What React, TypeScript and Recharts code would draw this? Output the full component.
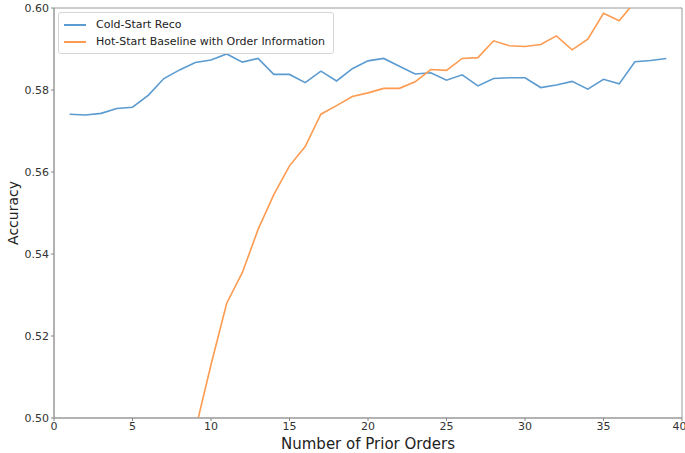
import { LineChart, Line, XAxis, YAxis, ReferenceArea } from 'recharts';

// Number of prior orders (x)
const orders = Array.from({ length: 39 }, (_, i) => i + 1);

const coldStart = [
  0.5741, 0.5739, 0.5743, 0.5755, 0.5758, 0.5787, 0.5828, 0.5849, 0.5867, 0.5873,
  0.5888, 0.5868, 0.5877, 0.5838, 0.5838, 0.5818, 0.5846, 0.5822, 0.5852, 0.5871,
  0.5877, 0.5858, 0.5839, 0.5842, 0.5824, 0.5837, 0.581, 0.5828, 0.583, 0.583,
  0.5806, 0.5812, 0.5821, 0.5802, 0.5826, 0.5815, 0.5869, 0.5872, 0.5877,
];

// values below 0.50 for the first orders fall outside the plotted range
const hotStart: (number | null)[] = [
  null, null, null, null, null, null, null, null, 0.497, 0.513,
  0.528, 0.5355, 0.546, 0.5545, 0.5615, 0.5662, 0.5741, 0.5762, 0.5784, 0.5793,
  0.5804, 0.5804, 0.582, 0.585, 0.5848, 0.5877, 0.5879, 0.592, 0.5908, 0.5906,
  0.5911, 0.5932, 0.5898, 0.5924, 0.5987, 0.5969, 0.6015, null, null,
];

const xTicks = [0, 5, 10, 15, 20, 25, 30, 35, 40];
const yTicks = [0.5, 0.52, 0.54, 0.56, 0.58, 0.6];

const BLUE = '#5b9bd0';
const ORANGE = '#fd9b50';
const FONT = '"DejaVu Sans", sans-serif';

const data = orders.map((n, i) => ({
  orders: n,
  cold: coldStart[i],
  hot: hotStart[i],
}));

const legendItems = [
  { label: 'Cold-Start Reco', color: BLUE },
  { label: 'Hot-Start Baseline with Order Information', color: ORANGE },
];

function LegendBox() {
  return (
    <div
      style={{
        position: 'absolute',
        left: 58,
        top: 12,
        border: '1px solid #d6d6d6',
        borderRadius: 3,
        background: 'rgba(255,255,255,0.8)',
        padding: '3px 8px 3px 5px',
        fontFamily: FONT,
        fontSize: 11,
        color: '#222',
      }}
    >
      {legendItems.map((item) => (
        <div key={item.label} style={{ display: 'flex', alignItems: 'center', height: 17 }}>
          <span
            style={{
              display: 'inline-block',
              width: 22,
              height: 2,
              background: item.color,
              marginRight: 10,
            }}
          />
          {item.label}
        </div>
      ))}
    </div>
  );
}

export default function App() {
  return (
    <div style={{ position: 'absolute', left: 0, top: 0, background: '#fff' }}>
      <LineChart
        width={685}
        height={453}
        data={data}
        margin={{ top: 8, right: 3, bottom: 0, left: 0 }}
      >
        <XAxis
          dataKey="orders"
          type="number"
          domain={[0, 40]}
          ticks={xTicks}
          height={35}
          tickSize={3}
          tickMargin={1}
          tick={{ fontSize: 11, fill: '#333', fontFamily: FONT }}
          tickLine={{ stroke: '#888' }}
          axisLine={{ stroke: '#999' }}
          label={{
            value: 'Number of Prior Orders',
            position: 'insideBottom',
            offset: 4,
            style: { fontSize: 15, fill: '#222', fontFamily: FONT },
          }}
        />
        <YAxis
          type="number"
          domain={[0.5, 0.6]}
          allowDataOverflow
          ticks={yTicks}
          width={54}
          tickSize={3}
          tickMargin={2}
          tickFormatter={(v: number) => v.toFixed(2)}
          tick={{ fontSize: 11, fill: '#333', fontFamily: FONT }}
          tickLine={{ stroke: '#888' }}
          axisLine={{ stroke: '#999' }}
          label={{
            value: 'Accuracy',
            angle: -90,
            position: 'insideLeft',
            offset: 13,
            style: { fontSize: 14, fill: '#222', fontFamily: FONT, textAnchor: 'middle' },
          }}
        />
        <ReferenceArea
          x1={0}
          x2={40}
          y1={0.5}
          y2={0.6}
          fill="none"
          stroke="#999"
          strokeWidth={1}
        />
        <Line
          type="linear"
          dataKey="cold"
          stroke={BLUE}
          strokeWidth={1.6}
          dot={false}
          isAnimationActive={false}
        />
        <Line
          type="linear"
          dataKey="hot"
          stroke={ORANGE}
          strokeWidth={1.6}
          dot={false}
          isAnimationActive={false}
        />
      </LineChart>
      <LegendBox />
    </div>
  );
}
